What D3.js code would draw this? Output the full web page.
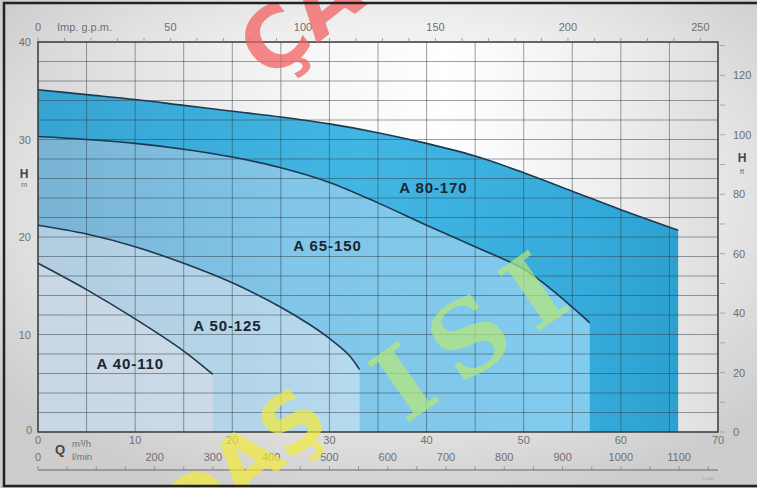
<!DOCTYPE html>
<html><head><meta charset="utf-8">
<script src="https://cdn.jsdelivr.net/npm/d3@7/dist/d3.min.js"></script>
<style>html,body{margin:0;padding:0;background:#fff;}svg{display:block;font-family:"Liberation Sans",Arial,sans-serif;}</style>
</head><body><div id="chart"></div>
<script>
// ---- data (Q in m3/h, H in m) ----
const seriesNames = ["A 80-170", "A 65-150", "A 50-125", "A 40-110"];
const q80 = [0, 5, 10, 15, 20, 25, 30, 35, 40, 45, 50, 55, 60, 65.9];
const h80 = [35.1, 34.6, 34.1, 33.5, 32.9, 32.3, 31.6, 30.7, 29.6, 28.3, 26.6, 24.7, 22.8, 20.7];
const q65 = [0, 5, 10, 15, 20, 25, 30, 35, 40, 45, 50, 53, 55, 56.8];
const h65 = [30.3, 30.0, 29.6, 29.0, 28.2, 27.1, 25.6, 23.5, 21.2, 19.0, 16.7, 14.5, 12.8, 11.2];
const q50 = [0, 5, 10, 15, 20, 25, 28, 30, 32, 33.1];
const h50 = [21.2, 20.3, 19.0, 17.3, 15.3, 12.8, 11.0, 9.6, 7.9, 6.4];
const q40 = [0, 5, 10, 15, 18];
const h40 = [17.3, 14.6, 11.6, 8.3, 5.9];
const labelQ = [40.7, 29.8, 19.5, 9.5];
const labelH = [24.5, 18.6, 10.4, 6.5];
const qTicks = [0, 10, 20, 30, 40, 50, 60, 70];
const lminTicks = [0, 200, 300, 400, 500, 600, 700, 800, 900, 1000, 1100];
const gpmTicks = [0, 50, 100, 150, 200, 250];
const mTicks = [0, 10, 20, 30, 40];
const ftTicks = [0, 20, 40, 60, 80, 100, 120];

const W = 757, H = 488;
const svg = d3.select("#chart").append("svg").attr("width", W).attr("height", H);
const defs = svg.append("defs");

const x = d3.scaleLinear().domain([0, 70]).range([38, 718]);
const y = d3.scaleLinear().domain([0, 40]).range([432, 42]);
const xg = d3.scaleLinear().domain([0, 70 / 0.272765]).range([38, 718]);
const xl = d3.scaleLinear().domain([0, 70 * 1000 / 60]).range([38, 718]);
const yf = d3.scaleLinear().domain([0, 40 / 0.3048]).range([432, 42]);

// background gradient
const bg = defs.append("radialGradient").attr("id", "bg").attr("cx", "52%").attr("cy", "40%").attr("r", "65%");
bg.append("stop").attr("offset", "0%").attr("stop-color", "#ffffff");
bg.append("stop").attr("offset", "55%").attr("stop-color", "#efefef");
bg.append("stop").attr("offset", "100%").attr("stop-color", "#cdcdcd");
svg.append("rect").attr("x", 0).attr("y", 0).attr("width", W).attr("height", H).attr("fill", "url(#bg)");

const pbg = defs.append("linearGradient").attr("id", "pbg").attr("x1", "0").attr("x2", "1");
[["0%", "#d8d8d8"], ["35%", "#f4f4f4"], ["60%", "#ffffff"], ["85%", "#eeeeee"], ["100%", "#dedede"]]
  .forEach(s => pbg.append("stop").attr("offset", s[0]).attr("stop-color", s[1]));
svg.append("rect").attr("x", x(0)).attr("y", y(40)).attr("width", x(70) - x(0)).attr("height", y(0) - y(40)).attr("fill", "url(#pbg)");

const grads = [
  ["g80", [["0%", "#36a4d2"], ["50%", "#42b6e3"], ["85%", "#36abdb"], ["100%", "#2ca0cf"]]],
  ["g65", [["0%", "#79b3d3"], ["40%", "#82c6e9"], ["100%", "#80cdf0"]]],
  ["g50", [["0%", "#b2cde0"], ["60%", "#b6dcf1"], ["100%", "#b9dff3"]]],
  ["g40", [["0%", "#c8d7e3"], ["100%", "#d4e4ef"]]]
];
grads.forEach(g => {
  const lg = defs.append("linearGradient").attr("id", g[0]).attr("gradientUnits", "userSpaceOnUse")
    .attr("x1", x(0)).attr("x2", x(66)).attr("y1", 0).attr("y2", 0);
  g[1].forEach(s => lg.append("stop").attr("offset", s[0]).attr("stop-color", s[1]));
});

const series = [
  { name: seriesNames[0], q: q80, h: h80, fill: "url(#g80)" },
  { name: seriesNames[1], q: q65, h: h65, fill: "url(#g65)" },
  { name: seriesNames[2], q: q50, h: h50, fill: "url(#g50)" },
  { name: seriesNames[3], q: q40, h: h40, fill: "url(#g40)" }
];

const crv = d3.curveCatmullRom.alpha(0.5);
const area = d3.area().x(d => x(d[0])).y0(y(0)).y1(d => y(d[1])).curve(crv);
const line = d3.line().x(d => x(d[0])).y(d => y(d[1])).curve(crv);

series.forEach(s => {
  const pts = s.q.map((q, i) => [q, s.h[i]]);
  svg.append("path").attr("d", area(pts)).attr("fill", s.fill);
});

// grid
const grid = svg.append("g").attr("stroke", "#2f3d48").attr("stroke-opacity", 0.55).attr("stroke-width", 0.9);
d3.range(0, 70.01, 5).forEach(v => grid.append("line").attr("x1", x(v)).attr("x2", x(v)).attr("y1", y(0)).attr("y2", y(40)));
d3.range(0, 40.01, 2).forEach(v => grid.append("line").attr("x1", x(0)).attr("x2", x(70)).attr("y1", y(v)).attr("y2", y(v)));

// curve lines
series.forEach(s => {
  const pts = s.q.map((q, i) => [q, s.h[i]]);
  svg.append("path").attr("d", line(pts)).attr("fill", "none").attr("stroke", "#1e3850").attr("stroke-width", 1.6);
});

// frame
svg.append("rect").attr("x", x(0)).attr("y", y(40)).attr("width", x(70) - x(0)).attr("height", y(0) - y(40))
  .attr("fill", "none").attr("stroke", "#3c3c3c").attr("stroke-width", 1.4);

// series labels
series.forEach((s, i) => {
  svg.append("text").attr("x", x(labelQ[i])).attr("y", y(labelH[i])).attr("text-anchor", "middle")
    .attr("font-size", 15).attr("letter-spacing", 0.9).attr("font-weight", "bold").attr("fill", "#1c2430").text(s.name);
});

const tc = "#707070";
// top gpm axis
const topAx = svg.append("g");
gpmTicks.forEach(v => topAx.append("text").attr("x", xg(v)).attr("y", 31).attr("text-anchor", "middle").attr("font-size", 11).attr("fill", tc).text(v));
topAx.append("text").attr("x", 57).attr("y", 31).attr("font-size", 11).attr("fill", tc).text("Imp. g.p.m.");
d3.range(0, 251, 10).forEach(v => topAx.append("line").attr("x1", xg(v)).attr("x2", xg(v)).attr("y1", 38).attr("y2", 42).attr("stroke", "#888").attr("stroke-width", 0.8));

// bottom axes
const botAx = svg.append("g");
qTicks.forEach(v => botAx.append("text").attr("x", x(v)).attr("y", 444).attr("text-anchor", "middle").attr("font-size", 11).attr("fill", tc).text(v));
lminTicks.forEach(v => botAx.append("text").attr("x", xl(v)).attr("y", 461).attr("text-anchor", "middle").attr("font-size", 11).attr("fill", tc).text(v));
botAx.append("text").attr("x", 55).attr("y", 454).attr("font-size", 13).attr("font-weight", "bold").attr("fill", "#444").text("Q");
botAx.append("text").attr("x", 72).attr("y", 447).attr("font-size", 9.5).attr("fill", tc).text("m³/h");
botAx.append("text").attr("x", 72).attr("y", 460).attr("font-size", 9.5).attr("fill", tc).text("l/min");
botAx.append("line").attr("x1", x(0)).attr("x2", x(70)).attr("y1", 470).attr("y2", 470).attr("stroke", "#666").attr("stroke-width", 1.2);
d3.range(0, 1151, 50).forEach(v => botAx.append("line").attr("x1", xl(v)).attr("x2", xl(v)).attr("y1", 466).attr("y2", 470).attr("stroke", "#888").attr("stroke-width", 0.8));
botAx.append("text").attr("x", 714).attr("y", 480).attr("text-anchor", "end").attr("font-size", 4).attr("fill", "#999").text("TC.005");

// left m axis
const leftAx = svg.append("g");
mTicks.forEach(v => leftAx.append("text").attr("x", v === 0 ? 32 : 31).attr("y", y(v) + (v === 0 ? 2 : 4)).attr("text-anchor", "end").attr("font-size", 11).attr("fill", tc).text(v));
leftAx.append("text").attr("x", 24).attr("y", 178).attr("text-anchor", "middle").attr("font-size", 12).attr("font-weight", "bold").attr("fill", "#444").text("H");
leftAx.append("text").attr("x", 24).attr("y", 187).attr("text-anchor", "middle").attr("font-size", 7.5).attr("fill", tc).text("m");

// right ft axis
const rightAx = svg.append("g");
ftTicks.forEach(v => rightAx.append("text").attr("x", 733).attr("y", yf(v) + 4).attr("font-size", 11).attr("fill", tc).text(v));
d3.range(0, 131, 10).forEach(v => rightAx.append("line").attr("x1", 720).attr("x2", 725).attr("y1", yf(v)).attr("y2", yf(v)).attr("stroke", "#999").attr("stroke-width", 0.8));
rightAx.append("text").attr("x", 742).attr("y", 162).attr("text-anchor", "middle").attr("font-size", 12).attr("font-weight", "bold").attr("fill", "#444").text("H");
rightAx.append("text").attr("x", 742).attr("y", 174).attr("text-anchor", "middle").attr("font-size", 8).attr("fill", tc).text("ft");

// watermarks
const wm = svg.append("g").attr("font-weight", "bold").attr("font-family", "'DejaVu Sans', sans-serif");
wm.append("text").attr("transform", "translate(268,82) rotate(-38)").attr("font-size", 84).attr("fill", "#f25c5c").attr("fill-opacity", 0.72).text("ÇAĞDAŞ");
wm.append("text").attr("transform", "translate(405,425) rotate(-35)").attr("font-size", 100).attr("font-family", "'DejaVu Serif', serif").attr("fill", "#b4e67a").attr("fill-opacity", 0.72).attr("letter-spacing", 20).text("ISI");
wm.append("text").attr("transform", "translate(190,545) rotate(-40)").attr("font-size", 80).attr("fill", "#f2ea3a").attr("fill-opacity", 0.7).text("DAŞ");

// outer border
svg.append("rect").attr("x", 4).attr("y", 3).attr("width", 760).attr("height", 483).attr("fill", "none").attr("stroke", "#222").attr("stroke-width", 2.5);
</script></body></html>
